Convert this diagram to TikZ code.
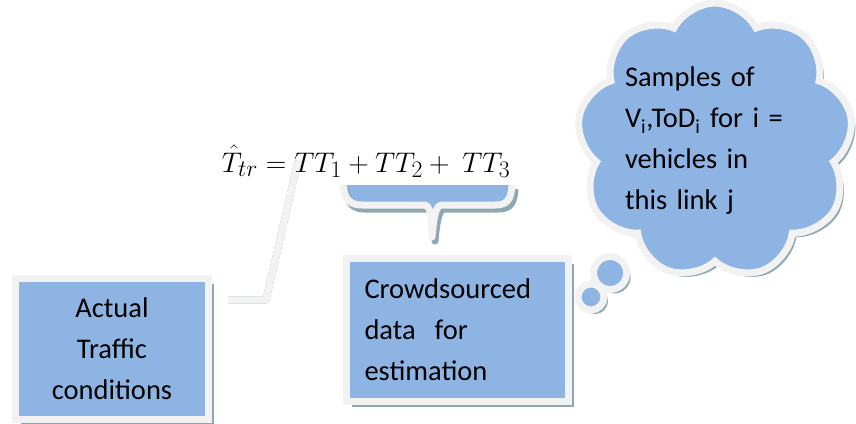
\documentclass[tikz,border=0pt]{standalone}
\usepackage{fontspec}
\setmainfont{Carlito}
\usetikzlibrary{shapes.callouts,shadows,backgrounds,calc}

\definecolor{boxblue}{RGB}{142,180,227}
\definecolor{framegray}{RGB}{242,242,242}
\definecolor{shadegray}{RGB}{141,168,178}

\tikzset{
  panel/.style={fill=boxblue, draw=framegray, line width=7pt,
    drop shadow={shadow xshift=5.5pt, shadow yshift=-5.5pt, fill=shadegray, opacity=1},
    font=\fontsize{28.5}{41}\selectfont, inner sep=0pt},
  thought/.style={cloud callout, cloud puffs=9, cloud puff arc=125,
    fill=boxblue, draw=framegray, line width=7pt,
    drop shadow={shadow xshift=4pt, shadow yshift=-4pt, fill=shadegray, opacity=1},
    font=\fontsize{28.5}{41}\selectfont, inner xsep=-5pt, inner ysep=-3pt},
  rim/.style={draw=framegray, line width=7pt, line join=round},
  rimshade/.style={draw=shadegray, line width=7pt, line join=round}
}

\begin{document}
\begin{tikzpicture}[x=1pt,y=-1pt]
\useasboundingbox (0,0) rectangle (856,423);

% boxes
\node[panel, minimum width=193pt, minimum height=141pt, align=center] (actual) at (112,349)
  {Actual\\Traffic\\conditions};
\node[panel, minimum width=222pt, minimum height=143pt, text width=186pt, align=left] (crowd) at (457.5,330)
  {Crowdsourced\\data~ for\\estimation};

% thought bubble
\node[thought, text width=180pt, align=left,
  callout absolute pointer={(591,297)},
  callout pointer start size=40pt, callout pointer end size=26pt] (samples) at (715,141)
  {Samples of\\V\textsubscript{i},ToD\textsubscript{i} for i =\\vehicles in\\this link j};

% equation
\node[font=\fontsize{24.88}{30}\selectfont, anchor=base, inner sep=0pt] (eqn) at (366,172)
  {\scalebox{1.14}{$\hat{T}_{tr} = TT_1 + TT_2 +\ TT_3$}};

\begin{scope}[on background layer]
% line from the box up to the equation
\coordinate (linkfoot) at ($(actual.east)+(16,-49)$);
\coordinate (linkknee) at ($(linkfoot)+(38,0)$);
\coordinate (linktop) at (298,161);
\draw[rimshade, shift={(4,5)}] (linkfoot) -- (linkknee) -- (linktop);
\draw[rim] (linkfoot) -- (linkknee) -- (linktop);
\end{scope}

% brace under TT2 + TT3
\fill[boxblue] (343,185) .. controls (345,200) and (350,205) .. (362,205) -- (424,205)
  .. controls (430,205) and (432,215) .. (432,237) .. controls (434,215) and (436,205) .. (442,205)
  -- (495,205) .. controls (507,205) and (511,200) .. (512,185) -- cycle;
\draw[rimshade, shift={(3,4)}] (343,185) .. controls (345,200) and (350,205) .. (362,205) -- (424,205)
  .. controls (430,205) and (432,215) .. (432,237) .. controls (434,215) and (436,205) .. (442,205)
  -- (495,205) .. controls (507,205) and (511,200) .. (512,185);
\draw[rim] (343,185) .. controls (345,200) and (350,205) .. (362,205) -- (424,205)
  .. controls (430,205) and (432,215) .. (432,237) .. controls (434,215) and (436,205) .. (442,205)
  -- (495,205) .. controls (507,205) and (511,200) .. (512,185);
\end{tikzpicture}
\end{document}
